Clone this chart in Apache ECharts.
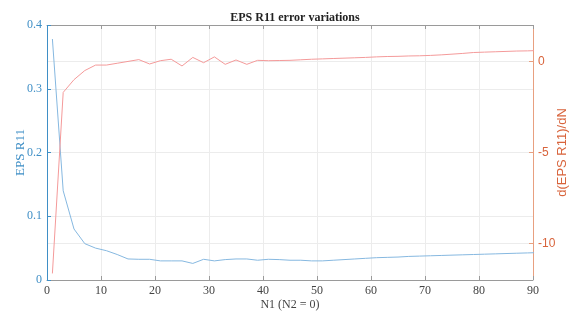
<!DOCTYPE html>
<html>
<head>
<meta charset="utf-8">
<script src="https://cdn.jsdelivr.net/npm/echarts@6/dist/echarts.min.js"></script>
<style>html,body{margin:0;padding:0;background:#fff;}#c{width:578px;height:311px;}</style>
</head>
<body>
<div id="c"></div>
<script>
const n1 = [1,3,5,7,9,11,13,15,17,19,21,23,25,27,29,31,33,35,37,39,41,43,45,47,49,51,53,55,57,59,61,63,65,67,69,71,73,75,77,79,81,83,85,87,89,91];
const epsR11 = [0.378,0.140,0.080,0.057,0.050,0.046,0.040,0.033,0.0325,0.0325,0.030,0.030,0.030,0.026,0.0325,0.030,0.032,0.033,0.033,0.031,0.0325,0.032,0.031,0.031,0.030,0.030,0.031,0.032,0.033,0.034,0.035,0.0355,0.036,0.037,0.0375,0.038,0.0385,0.039,0.0395,0.040,0.0405,0.041,0.0415,0.042,0.0425,0.043];
const dEpsR11 = [-11.64,-1.7,-1.0,-0.5,-0.2,-0.2,-0.1,0.0,0.1,-0.14,0.04,0.12,-0.25,0.22,-0.07,0.25,-0.16,0.08,-0.16,0.06,0.04,0.05,0.06,0.09,0.12,0.14,0.16,0.18,0.2,0.22,0.25,0.27,0.28,0.3,0.31,0.33,0.36,0.4,0.44,0.49,0.51,0.53,0.55,0.57,0.58,0.6];
const rightTicks = [0,-5,-10];
const xRange = [0, 90];

const blue = '#3f8fc6', orange = '#d8643c', gridC = '#ececec', axisC = '#9a9a9a';
const chart = echarts.init(document.getElementById('c'));
chart.setOption({
  animation: false,
  title: {text: 'EPS R11 error variations', left: 290, textAlign: 'center', top: 7,
    textStyle: {fontFamily: 'Liberation Serif', fontWeight: 'bold', fontSize: 12, color: '#222'}},
  grid: {left: 47, right: 45, top: 25, bottom: 31, show: false,
    containLabel: false, outerBoundsMode: 'none'},
  xAxis: [{
    type: 'value', min: xRange[0], max: xRange[1], interval: 10, position: 'bottom',
    name: 'N1 (N2 = 0)', nameLocation: 'middle', nameGap: 19, nameMoveOverlap: false,
    nameTextStyle: {fontFamily: 'Liberation Serif', fontSize: 12, color: '#444'},
    axisLine: {show: true, onZero: false, lineStyle: {color: axisC}},
    axisTick: {show: true, inside: true, length: 4, lineStyle: {color: axisC}},
    axisLabel: {fontFamily: 'Liberation Serif', fontSize: 12, color: '#444', margin: 5},
    splitLine: {show: true, lineStyle: {color: gridC}}
  }, {
    type: 'value', min: xRange[0], max: xRange[1], interval: 10, position: 'top',
    axisLine: {show: true, onZero: false, lineStyle: {color: axisC}},
    axisTick: {show: true, inside: true, length: 4, lineStyle: {color: axisC}},
    axisLabel: {show: false}, splitLine: {show: false}
  }],
  yAxis: [{
    type: 'value', min: 0, max: 0.4, interval: 0.1, position: 'left',
    name: 'EPS R11', nameLocation: 'middle', nameRotate: 90, nameGap: 20, nameMoveOverlap: false,
    nameTextStyle: {fontFamily: 'Liberation Serif', fontSize: 13, color: blue},
    axisLine: {show: false, onZero: false},
    axisTick: {show: true, inside: true, length: 4, lineStyle: {color: blue}},
    axisLabel: {fontFamily: 'Liberation Serif', fontSize: 12, color: blue, margin: 5},
    splitLine: {show: true, lineStyle: {color: gridC}}
  }, {
    type: 'value', min: -12, max: 2, position: 'right',
    name: 'd(EPS R11)/dN', nameLocation: 'middle', nameRotate: 90, nameGap: 23, nameMoveOverlap: false,
    nameTextStyle: {fontFamily: 'Liberation Sans', fontSize: 13, color: orange},
    axisLine: {show: false, onZero: false},
    axisTick: {show: true, inside: true, length: 4, customValues: rightTicks, lineStyle: {color: '#e8a080'}},
    axisLabel: {fontFamily: 'Liberation Sans', fontSize: 12, color: orange, margin: 5, customValues: rightTicks},
    splitLine: {show: false}
  }],
  series: [{
    type: 'line', xAxisIndex: 0, yAxisIndex: 0, showSymbol: false, clip: true,
    data: n1.map((x, i) => [x, epsR11[i]]),
    lineStyle: {color: '#86b8e0', width: 1}, itemStyle: {color: '#86b8e0'},
    markLine: {silent: true, symbol: 'none', label: {show: false},
      lineStyle: {color: blue, type: 'solid', width: 1},
      data: [{xAxis: xRange[0]}]}
  }, {
    type: 'line', xAxisIndex: 0, yAxisIndex: 1, showSymbol: false, clip: true,
    data: n1.map((x, i) => [x, dEpsR11[i]]),
    lineStyle: {color: '#f49a9a', width: 1}, itemStyle: {color: '#f49a9a'},
    markLine: {silent: true, symbol: 'none', label: {show: false}, z: 0,
      lineStyle: {color: gridC, type: 'solid', width: 1},
      data: rightTicks.map(v => ({yAxis: v})).concat([{xAxis: xRange[1], lineStyle: {color: '#e8a080'}}])}
  }]
});
</script>
</body>
</html>
